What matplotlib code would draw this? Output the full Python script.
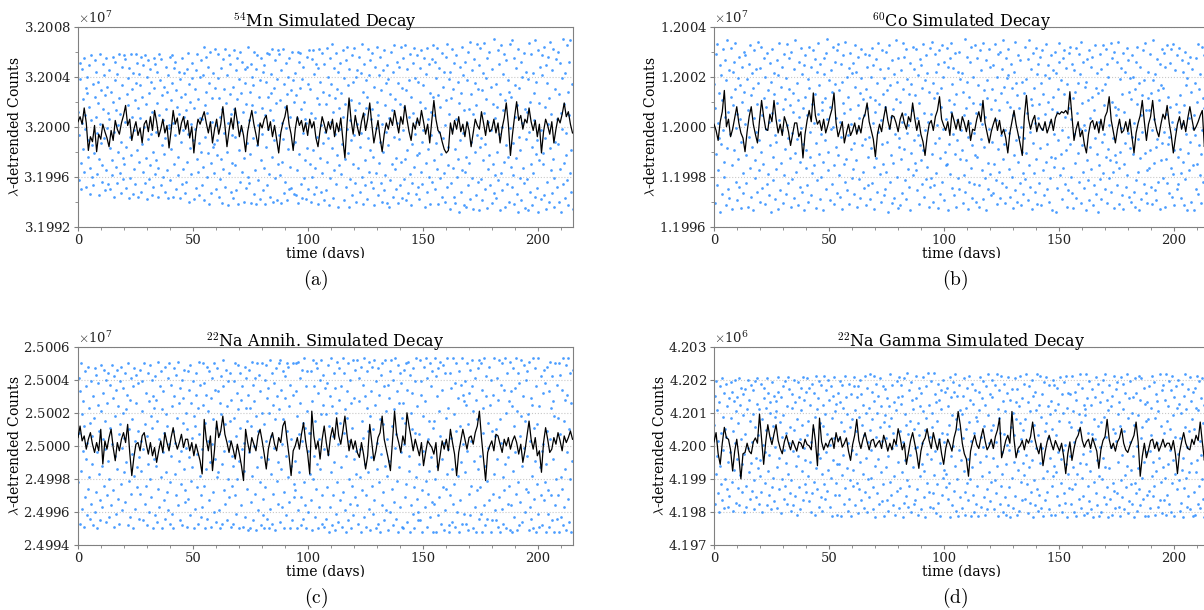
import numpy as np
import matplotlib
matplotlib.use('Agg')
import matplotlib.pyplot as plt
from matplotlib.ticker import MultipleLocator, ScalarFormatter
from matplotlib.transforms import Bbox, TransformedBbox

plt.rcParams['font.family'] = 'DejaVu Serif'
plt.rcParams['mathtext.fontset'] = 'cm'

DAYS = 215.0

TITLES = [r'$^{54}$Mn Simulated Decay', r'$^{60}$Co Simulated Decay',
          r'$^{22}$Na Annih. Simulated Decay', r'$^{22}$Na Gamma Simulated Decay']
CAPTIONS = ['(a)', '(b)', '(c)', '(d)']
BASELINES = [3.2e7, 1.2e7, 2.5e7, 4.2e6]
# counts per list unit for each panel
UNITS = [100, 50, 100, 40]
YLIMS = [(3.1992e7, 3.2008e7), (1.1996e7, 1.2004e7), (2.4994e7, 2.5006e7), (4.197e6, 4.203e6)]
YMAJOR = [4000, 2000, 2000, 1000]
YMINOR = [2000, 1000, None, None]

# smoothed series (black), offsets from baseline in panel units
MN_LINE = [
    4, 8, 2, 15, 3, -19, -8, -12, 1, -20, -6, -10, 2, -4, -9, -16, -3, -11, 5, -2,
    -6, 3, 9, 17, 1, 6, -11, -2, 4, -7, -1, -13, 2, 5, -4, 8, -3, 13, 4, -8,
    -2, 6, -5, 1, -17, -3, 13, 2, 7, -6, 3, 8, -2, 5, -9, 0, -21, -4, 6, 2,
    7, 12, 3, -5, 4, -13, -2, 6, -6, 2, 16, 1, -16, -3, 7, -2, 15, 4, -8, 1,
    -7, -20, -4, 5, 13, 2, -6, -15, 3, -1, 6, 9, -3, 4, -8, 1, -10, -21, -5, 3,
    8, 17, 2, -6, -19, -2, 8, 1, 5, -4, 3, -7, 6, -1, 4, -9, -16, -3, 8, 2,
    -5, 4, -2, 6, -8, 3, -4, 7, -10, -25, 2, 23, 5, -6, 9, 0, -7, 4, 11, -3,
    6, 19, 2, -13, -4, 5, -9, -20, -6, 3, -2, 7, 1, 13, 4, -5, 8, 2, 17, 6,
    -4, -11, 3, -2, 7, 1, 13, 4, -6, 2, -13, 5, 21, 6, -3, -5, -12, -18, -21, -19,
    3, -6, 5, -2, 8, -4, 2, -8, 4, -3, -16, -5, 6, 1, -2, 12, 3, -7, 5, -4,
    -2, 6, -5, 3, -13, -1, 7, 19, 2, -23, -6, 8, 20, 5, 9, -2, 6, 3, 15, 4,
    -3, 5, -8, 2, -21, -4, 6, 1, -6, 4, -13, -2, 7, 3, 10, 19, 8, 12, 2, -5,
]
CO_LINE = [
    2, -3, -11, 4, 12, 29, 0, 6, -8, -2, 7, 16, 3, -5, -9, -20, -4, 8, 16, 2,
    -6, -13, 5, 21, 8, -2, -3, 10, 4, 21, 6, -5, 2, -7, 8, 3, -4, -15, -6, 3,
    3, -8, -4, -25, -6, 5, 13, 4, 27, 9, 2, 5, -3, 6, -5, 1, 8, 14, 27, 3,
    -8, -2, 4, -13, -5, 2, -7, -3, 3, -6, 1, -5, 6, 10, 19, 4, -3, -10, -24, -6,
    2, -4, 7, 16, 5, -2, 9, 8, 3, -4, 6, 11, 3, -2, 8, 4, 19, 7, -3, 5,
    -6, -12, -23, -8, 2, 5, -3, 8, 13, 24, 6, 1, -3, 4, -7, 11, 5, -2, 6, -3,
    8, 3, -4, 5, -11, -2, -3, 6, 12, 4, 21, 3, -5, -13, -4, 2, 7, -3, 5, -6,
    -2, -9, -21, -5, 4, 13, 2, -6, -14, -23, 8, 25, 6, -2, 5, 9, -4, 3, -1, -3,
    4, -5, 0, 6, -3, 7, 11, 10, 12, 11, 13, 10, 28, 9, -11, -2, 4, -8, -3, -14,
    -21, -6, 3, 5, -2, 4, -5, 6, -3, 8, 12, 24, 5, -4, -13, -2, 6, -5, -3, 4,
    -4, 6, -8, -21, -5, 3, 9, 21, 4, -11, 2, 8, 21, 5, -3, -8, 2, 10, 6, 17,
    3, -7, -21, -9, 2, 8, -2, 5, -4, 7, 16, 6, -3, 0, 4, 9, 13, -16, -5, 2,
]
NA_ANNIH_LINE = [
    5, 12, 3, 6, -2, 4, 8, 1, -4, 2, -3, 10, -11, 3, -2, 5, 10, -1, -9, 2,
    -3, 4, 8, 2, 13, -4, -18, -7, 1, 2, -3, 6, 8, 1, -5, 2, -6, -1, -10, -3,
    3, -4, 8, 2, -3, 5, 11, 3, -2, 2, 7, -1, 4, 4, -3, 2, -6, 1, -4, -9,
    -17, 16, 4, -3, 6, -15, -2, 15, 5, 9, 18, 7, 2, -4, 3, -2, -8, 1, -5, -12,
    -21, 10, 2, -4, 5, 1, -3, 6, 10, 3, -5, -14, -2, 4, 8, 1, -3, 5, 2, 12,
    15, 4, -6, -18, -3, 0, 5, -2, 7, 14, 3, -5, -17, 21, 6, -2, 3, -8, 4, 12,
    2, -6, 5, 11, 4, 17, 6, 1, 9, 18, 7, -3, 4, -2, 3, -4, -7, 2, -5, -14,
    -6, 13, 2, -9, -3, 5, 8, 18, 4, -2, -8, -15, 3, 21, 7, 2, -4, 6, 1, 20,
    12, 5, -3, 4, -1, -6, 2, -12, -4, 3, 1, -1, -5, 2, -15, -6, 3, -2, 4, -3,
    10, 2, -5, -18, -4, 3, 10, 4, -2, 5, 6, 1, 8, 12, 21, 5, -8, -21, -4, 0,
    3, -3, 7, 6, 1, -4, 4, 0, 5, -2, 3, 6, 2, -5, 1, -10, -3, 6, 15, 4,
    -2, 5, -6, -3, -16, 2, 11, 4, -4, -2, 5, 1, 8, 3, -3, 6, 2, 5, 9, 4,
]
NA_GAMMA_LINE = [
    3, 10, -6, -14, 2, 14, 6, 5, -3, -19, -4, 5, -8, -25, -6, -5, 2, -4, -6, 3,
    6, 2, 24, 5, -14, 3, 16, 7, 1, 9, 16, 4, -2, -6, 3, 8, 2, -3, 4, 0,
    -4, 3, 2, -2, 5, 1, 0, -3, 16, 4, -15, 21, 3, -3, 2, -1, 4, 6, -2, 10,
    3, 7, -1, 2, 6, -4, -11, 1, 8, 20, 4, -2, 5, 10, 3, -3, 4, 5, -1, 2,
    4, -2, 8, 3, -4, 2, -3, 5, 1, 13, 6, -3, 2, -14, -5, 4, 10, 2, -6, -17,
    -4, 3, 6, 13, 4, -2, 10, 3, -3, 5, -6, -14, -2, 5, 1, -4, 6, 12, 26, 16,
    2, -6, -10, -23, -4, 3, 8, 1, -2, 6, 13, 4, -3, 0, 5, -2, 7, 12, 21, -9,
    -3, 4, 8, 2, 26, 5, -9, -2, 0, 4, -3, 5, 2, 7, 18, 6, -1, -6, 2, -15,
    -5, 3, 8, 2, -3, 4, 0, -4, 2, -8, -21, -6, 3, -11, -2, 5, 8, 14, 4, -1,
    3, 5, -2, 6, 1, -4, -17, -3, 4, 7, 20, 5, -2, 2, -4, 3, 6, 13, 2, -3,
    -5, 0, 4, 8, 18, 3, -23, -8, 2, -9, -3, 4, 5, -2, 3, -4, 0, 5, -1, 2,
    2, -3, 4, -6, -21, -5, 3, 10, 2, -2, -3, 5, 1, 8, 4, 18, 3, -11, -2, 4,
]

# raw simulated counts (blue), offsets from baseline in panel units
MN_DOTS = [
    12,-43,-7,38,51,-29,-50,3,46,22,-18,-36,55,9,-2,31,-48,27,40,-24,-11,49,16,-54,-33,5,57,-40,-15,34,
    -47,-21,24,53,8,44,-38,-5,19,36,-55,-26,2,58,-13,29,-44,-31,50,14,41,-9,-51,25,55,-35,-1,32,-46,11,
    45,6,-17,-50,28,-39,-27,56,20,-4,-56,37,52,13,-32,-45,42,1,-20,58,23,-37,10,-53,-12,48,33,-42,-25,57,
    -30,54,4,-49,-16,26,39,17,-57,47,-8,-41,-23,58,30,8,-54,43,-34,-3,21,-46,58,35,51,-19,-56,15,-28,42,
    7,33,-52,56,-14,24,-36,49,0,-45,57,18,-25,-58,40,53,-10,-42,27,46,-31,-6,36,-55,12,-48,-20,55,31,-38,
    50,-4,-27,44,19,-56,-33,9,58,37,-47,54,-15,25,-40,5,-22,32,-52,-9,48,14,-35,28,41,-57,1,-1,56,-43,
    21,-18,57,35,-56,3,-30,47,-7,52,29,-50,16,-39,-24,10,44,-57,38,-12,24,55,-46,-3,-34,43,8,-53,26,13,
    -44,46,-28,-6,59,34,-60,20,-17,2,-38,51,39,-11,-58,15,-2,30,-49,45,-26,58,-36,22,-55,-13,7,40,-20,53,
    6,-47,-32,41,64,-59,17,-8,28,56,-40,11,-21,48,-62,35,60,-29,-53,23,4,-16,43,-37,-14,31,62,-50,1,-23,
    -11,39,58,-56,23,-42,8,-26,47,-61,14,54,-34,-5,30,62,-48,19,-20,41,-63,3,-37,57,26,50,-52,10,-29,-7,
    32,-57,14,61,-31,-8,45,-51,22,55,-62,4,-19,38,-44,60,-3,27,-36,52,12,-60,-25,46,35,-49,18,-13,48,-40,
    64,5,-45,28,-22,50,-61,17,40,-9,33,-54,60,-35,12,-62,46,-15,57,1,-43,24,-58,37,-27,55,-6,15,-51,44,
    -33,49,9,-62,36,-16,59,-47,24,-2,58,-38,13,-56,42,27,-24,62,-60,5,31,-11,53,-41,19,-59,38,-30,61,-7,
    58,-39,21,-61,45,3,-28,-10,62,34,-53,16,-44,-1,51,-59,26,-18,40,-50,55,8,-32,29,-49,60,-14,37,-54,20,
    -12,43,-55,25,-35,7,60,-61,52,-22,31,59,-46,14,-57,38,-5,48,-41,20,-27,6,-58,3,56,-17,-50,34,61,-30,
    30,-60,11,54,-40,61,-19,-54,42,7,-33,50,-48,23,-8,47,-62,18,62,-25,36,-52,1,-37,59,-13,28,-59,50,-4,
    -51,18,63,-28,40,-9,-63,25,55,-41,4,34,-17,66,-57,12,-35,47,23,-6,59,-46,30,-23,-64,44,15,-31,51,-2,
    27,-38,-14,61,8,-59,39,-26,18,53,-48,-2,64,-21,33,-64,46,5,-42,21,-11,57,-55,36,-30,63,-7,13,-45,40,
    -60,45,2,-33,56,19,-52,-16,43,-5,66,-40,28,-62,10,50,-27,-47,37,15,-58,24,62,-9,-36,41,-19,53,-44,6,
    14,59,-49,-24,32,-63,48,-1,-37,20,64,-55,9,41,-29,-12,56,-45,29,-60,2,45,-20,-51,61,17,-39,35,-4,-61,
    49,-15,38,-64,7,26,-43,60,-30,13,-56,44,-8,65,-34,22,-50,-25,52,3,-61,35,-10,48,-47,18,64,-28,-57,31,
    -3,55,-42,16,-26,65,-59,29,46,-19,-53,8,37,-38,58,-63,24,-14,-45,51,11,-32,63,-6,39,-54,4,-23,57,-48,
    36,-21,-58,47,20,-36,61,-12,-46,33,-3,55,-64,15,42,-29,63,-52,6,-18,50,-40,27,-62,12,-7,54,-44,24,65,
    -27,9,52,-50,-13,39,-34,63,-62,25,-4,47,16,-41,-22,59,-56,32,-9,44,-37,1,-60,56,21,-48,66,-16,-31,38,
    10,-66,44,23,-45,-2,62,-33,30,-56,51,-18,-61,6,57,-40,36,-26,19,-68,48,-11,27,-52,64,-35,-5,41,-63,13,
    -36,52,-24,-64,37,3,-47,60,14,-29,68,-58,26,-12,45,-41,-66,10,54,-20,35,-55,17,66,-7,-44,30,-67,49,-16,
    63,-9,-42,29,-59,43,-27,11,67,-50,-14,39,22,-65,55,-34,4,-23,60,-47,32,-3,-61,46,-30,18,70,-53,7,-39,
    -57,34,16,-20,61,-43,-6,50,-67,26,-37,65,0,-51,13,42,-28,58,-64,21,-15,53,-46,37,-24,-60,28,-1,66,-32,
    24,-48,69,-13,-39,55,-62,33,8,-25,47,-54,17,-68,62,-8,31,-41,-19,52,-59,40,3,-33,59,-45,14,-65,44,-10,
    -42,12,-67,38,-4,67,-52,20,-30,58,-16,-63,43,-37,27,5,-56,69,-22,36,-11,-49,61,-68,19,-27,48,-3,-58,57,
    41,-30,-21,64,-55,16,-9,49,-66,35,-44,2,56,-60,23,-17,68,-35,10,-53,45,-26,62,-41,-64,30,-12,54,-48,6,
    -14,60,-60,26,-34,51,11,-68,39,-2,-46,70,-29,18,-57,43,-23,-5,65,-43,28,-63,9,52,-37,69,-19,-52,34,-66,
]
CO_DOTS = [
    34,15,-61,-22,58,66,-47,3,-35,27,-9,49,-68,-14,41,21,-54,62,-3,-40,-28,53,8,37,-63,-17,69,12,-50,45,
    -57,-6,24,63,-31,-66,44,17,52,-19,30,67,-44,-1,-59,10,39,-26,-48,56,6,33,-65,-12,48,20,-37,-53,60,28,
    2,57,-45,-23,38,13,-64,50,-8,65,-33,25,-56,43,-16,31,-67,7,61,-41,-27,46,-4,18,-52,68,35,-35,-11,-60,
    47,64,-20,9,-49,-30,55,23,-62,40,-2,16,-46,59,-38,29,4,-55,51,-15,36,-68,62,11,-24,-43,43,26,-7,-58,
    -34,-12,53,19,-66,41,5,67,-51,-29,32,48,-3,-61,14,58,-39,-18,22,39,-54,66,1,-9,-45,55,30,-25,17,-64,
    60,-42,-5,27,12,-57,46,69,-21,-36,-10,35,21,-63,52,8,-48,-28,63,-1,42,-52,15,-14,49,-67,24,57,-33,-19,
    -47,9,38,-60,64,31,-24,-4,48,-55,-37,18,61,3,-31,54,26,-65,-13,44,-43,10,67,-22,33,-58,50,-6,-40,20,
    13,-28,-67,55,42,-11,23,59,-50,6,70,-35,-20,37,16,-59,45,-2,28,-46,64,0,-31,-62,52,34,-16,7,-53,61,
    -23,66,-39,29,4,-56,-8,50,36,-66,19,57,-30,11,-44,68,-26,40,-51,-7,24,47,-62,14,59,-18,2,-41,43,-34,
    51,-13,-54,32,65,-27,44,-3,-64,17,56,7,-42,27,-57,39,62,-15,22,-36,-49,9,58,-10,30,-63,48,15,-24,-47,
    -8,57,24,-58,40,-17,63,-45,3,49,-32,-66,21,12,54,-25,-52,35,67,-4,18,-38,46,-60,5,-14,61,-30,26,-55,
    39,-50,16,60,-36,-12,29,47,-68,-1,65,-44,33,-23,8,-61,53,14,-29,42,-57,-6,69,22,-40,36,-65,55,-16,-9,
    -63,20,45,-26,-53,4,67,30,-18,56,-43,10,62,-58,38,-5,-34,1,26,-48,51,-67,-21,34,13,64,-39,-11,46,-29,
    25,-35,62,7,-51,-7,41,19,-62,-15,54,-27,49,31,-46,-19,66,11,-56,37,-3,57,-42,43,-32,4,-64,28,63,-48,
    -41,10,68,-22,35,-60,23,-47,58,-13,44,-37,1,27,-65,50,-9,61,-25,-54,16,31,65,-44,-2,40,-59,52,-20,-31,
    6,-30,63,48,-67,-14,21,55,-38,67,12,-49,34,-6,47,-55,18,-22,59,-64,26,-11,5,-41,44,60,-50,-26,38,-3,
    -19,43,-61,28,9,-39,70,-52,15,-27,36,56,-8,-66,24,-44,52,3,-33,64,-15,-57,40,19,-5,-46,65,-23,11,-60,
    55,-24,33,-47,-64,61,18,-10,45,-35,2,-58,67,29,-16,-41,8,53,-67,37,23,-29,-50,62,-2,48,-38,14,-55,30,
    -12,-53,49,-30,21,66,-43,5,-62,40,58,-18,-36,13,60,-57,27,-7,-45,46,-26,69,-14,32,-61,-3,55,-48,20,39,
    41,62,-34,-5,-56,16,50,-40,31,-65,9,-23,44,-51,68,-11,35,25,-60,-28,57,-8,15,-45,53,-63,0,36,-20,-37,
    -54,27,-9,64,-42,-21,38,11,-59,54,-31,69,-4,-48,22,46,-66,17,-13,59,-37,31,-52,3,63,-26,42,-62,7,50,
    18,-45,56,-17,35,-63,-2,61,26,-35,-55,41,10,-28,66,-50,-14,49,20,-60,39,4,-41,57,-24,14,-67,45,24,-6,
    -32,60,-25,43,-68,12,-49,30,-11,52,67,-39,-22,37,-3,-58,55,-33,26,61,-46,8,-19,47,-64,34,-8,-51,59,15,
    64,-14,-40,6,50,-53,23,-65,45,-6,28,-29,63,-57,11,35,-21,58,-44,-2,42,-61,68,-15,19,-36,52,1,-49,32,
    -3,36,-67,54,-27,21,-43,61,-59,7,-16,48,-34,24,56,-63,13,-47,65,-9,31,-54,-22,43,-68,27,4,-31,58,-42,
    46,-58,29,-12,-37,65,-6,17,34,-50,62,-24,-61,50,-18,40,-41,1,-27,67,-52,20,55,-36,-9,60,-65,16,-23,9,
    -28,52,-47,14,68,-33,-62,38,-20,47,-1,-55,26,-66,59,-30,12,-13,44,-48,63,-39,-5,53,28,-56,39,-17,-60,22,
    57,-8,-22,40,-52,3,30,-64,52,-43,18,64,-10,-36,35,-67,48,-25,9,-58,25,-4,61,-46,37,-21,67,-53,13,-35,
    -61,23,44,-33,13,-19,58,-48,27,-3,-62,37,69,-29,6,-51,42,-16,-59,54,-10,29,-44,21,-66,50,-27,33,-13,62,
    31,-41,-4,59,-64,48,-26,10,-45,65,-14,24,-53,-8,51,16,-33,62,-56,4,-38,66,-19,-63,45,-2,18,-50,57,-24,
    -46,12,63,-18,25,-57,-37,53,2,-28,44,-63,17,60,-42,33,-6,-67,39,-21,51,-35,7,56,-12,-60,28,46,-31,-1,
    9,-67,35,-7,-50,55,20,-30,66,-54,-15,30,-39,42,-22,-61,64,-3,23,-44,15,57,-58,-27,47,1,-47,34,-65,58,
]
NA_ANNIH_DOTS = [
    -22,41,8,-47,33,50,-15,-38,19,-3,27,-49,12,45,-31,-8,36,-42,2,48,-26,-19,23,14,-44,-35,39,6,-11,-48,
    30,17,-40,47,-28,43,-4,-50,25,38,-17,9,-45,-33,21,49,-12,-37,4,32,46,-24,-2,15,-46,40,26,-30,-9,44,
    -43,-20,11,37,-36,49,1,29,-27,-49,42,18,-6,-41,34,46,-14,-32,24,7,-47,39,13,-23,48,-1,-39,20,35,-16,
    5,44,-34,-10,22,31,-48,50,10,-21,28,-43,-29,41,16,-5,-50,36,47,-18,3,-38,26,43,-25,-13,9,38,-44,-7,
    -29,46,3,-15,39,21,-45,-2,50,-35,13,32,-24,-48,6,44,-11,27,-40,49,-20,18,-31,40,11,-50,30,-8,23,-42,
    42,28,-12,-46,15,51,-26,4,-37,36,-19,45,-50,22,-4,33,-33,8,48,-44,19,-16,12,-28,41,-39,1,50,-22,-47,
    -6,37,24,-41,9,-50,47,30,-17,2,-30,43,17,-36,51,-9,26,-45,35,-23,-3,40,-48,29,14,-14,46,-34,-27,-1,
    20,10,-49,45,-32,34,-7,49,-42,26,-21,5,-13,39,18,-50,12,-38,44,31,-25,-5,23,-47,51,7,-18,37,-30,-43,
    -37,-2,25,50,-24,38,14,-50,-14,31,48,-44,3,21,-33,45,-10,29,-49,1,41,-28,16,50,-40,-8,34,11,-46,-19,
    47,33,-16,7,-39,-50,26,42,19,-11,-47,36,52,-27,-3,13,-35,46,24,-45,-20,39,3,-31,15,44,-49,28,-6,-24,
    -12,-47,39,17,-30,50,6,-41,32,-20,49,22,-9,-50,44,11,28,-36,-2,36,-49,-15,2,48,-43,23,41,-26,15,-51,
    31,-4,46,-50,23,12,-34,-18,51,37,-45,0,27,-29,41,-51,18,-13,50,-39,9,43,-22,33,-48,-7,50,20,-32,-42,
    -50,13,-25,40,3,49,29,-44,-8,35,-50,20,52,-38,6,-17,44,-47,25,-29,38,-1,16,-51,47,-21,30,-35,-10,50,
    22,52,-46,-14,34,1,-37,45,16,-28,-50,42,29,-6,-42,50,9,-19,48,-34,24,-50,37,-12,4,-45,31,50,-23,-31,
    -27,-9,50,33,-50,18,-39,51,7,-16,41,26,-48,-31,3,46,-44,14,53,-22,11,-36,36,-50,21,45,-3,-40,8,-17,
    8,45,-33,27,-51,-20,52,-6,36,15,-43,50,-26,-11,47,32,-50,4,-37,40,-14,52,19,-47,-30,43,25,-2,-49,35,
    -44,19,38,-25,-5,49,-52,12,30,-37,53,-16,-48,24,6,-30,44,-10,-51,35,20,-41,51,-22,1,-46,28,47,-33,14,
    36,-13,-49,53,-28,8,44,-39,22,-6,-52,33,17,-45,50,-20,3,-35,40,26,-50,11,-24,52,-42,29,-8,46,-31,-17,
    -3,52,-36,-47,27,41,-19,-2,48,-52,15,-27,37,5,-43,53,-11,30,-30,-49,23,45,-16,9,-38,51,-51,18,33,-7,
    48,-24,10,-41,52,-33,25,-50,39,2,-14,47,-47,31,-22,16,-52,43,-5,-36,50,13,-28,36,-45,-12,52,21,-39,4,
    -18,37,-51,29,-9,45,-40,52,-26,12,-48,40,22,-34,53,-1,-44,7,33,-21,-52,49,-13,26,44,-37,-4,38,-49,17,
    26,-50,46,1,-31,14,-23,50,-46,34,51,-15,-6,43,-52,20,-36,32,10,-41,47,-25,-50,39,8,-19,53,-32,24,-45,
    -40,7,-11,52,-45,31,39,-27,-52,18,-3,48,-37,27,-21,53,41,-49,4,-29,15,-15,50,-43,36,-7,-34,45,-52,11,
    15,-35,53,-20,42,-52,-12,30,47,-42,21,-31,6,51,-47,-8,34,-25,49,-51,2,44,-39,17,-26,53,-17,23,-2,-48,
    -52,44,-30,5,35,-14,-46,53,-35,19,-23,38,-49,9,50,-40,29,-18,-52,45,12,-33,37,-10,53,-47,1,31,-41,27,
    39,-16,25,-47,-3,50,-51,13,32,-29,46,-42,3,-24,36,52,-50,21,-9,41,-37,28,-52,16,-27,47,-14,-44,52,-6,
    -25,50,-41,34,-52,23,8,-36,53,-12,-48,30,42,-21,-44,14,-1,48,-33,25,-52,40,9,-45,31,-29,53,-17,6,-39,
    10,-45,41,-8,28,-49,52,-31,16,-52,37,2,-38,50,-19,-47,34,-27,53,-11,20,-50,44,-35,-7,27,-24,51,-51,33,
    -36,24,-52,47,-15,12,-43,35,-4,53,-29,-51,21,44,-22,38,-48,6,-34,52,18,-12,-46,30,-1,49,-40,15,40,-26,
    45,-6,-28,19,-51,51,-37,3,29,-44,25,-18,53,-50,11,-32,47,-9,-52,36,-23,13,-41,53,24,-49,-13,42,-30,-3,
    -48,32,1,-33,46,-22,38,-52,-11,48,9,-41,-27,33,-49,51,4,-30,23,-45,42,-8,27,-52,18,-36,50,-20,-44,37,
    17,-30,50,-52,7,43,-19,-43,34,-26,53,-48,15,-37,28,-14,-51,49,-4,31,-32,53,-46,10,44,-20,-52,26,-9,46,
]
NA_GAMMA_DOTS = [
    16,38,-44,-21,49,-8,27,-36,4,-50,33,45,-15,-29,10,51,-41,22,-3,40,-47,13,-25,47,7,-33,30,-12,-46,36,
    -38,-5,21,48,-27,41,11,-49,34,-18,50,2,-43,26,37,-10,-32,17,51,-45,-22,31,5,44,-35,-14,23,39,-50,-6,
    43,9,-30,-46,28,50,-2,-20,35,19,-40,46,-13,3,-34,42,24,-48,-26,49,14,-39,-9,32,51,-17,8,-44,28,-23,
    -11,-35,47,20,-50,1,36,44,-28,-5,29,12,-45,51,-19,40,-37,-7,25,33,-48,6,48,-31,15,-24,38,-42,-1,22,
    34,26,-47,-16,41,52,-33,-9,18,37,-51,7,-25,45,23,-40,-3,49,-30,10,-13,30,-44,52,-21,2,43,-36,14,-49,
    -26,39,29,-4,-45,12,50,-38,33,-15,20,-52,48,-8,37,-31,5,-48,27,44,-19,16,-41,52,-2,35,-29,-11,41,-35,
    8,51,-23,19,-42,44,-12,31,-50,3,47,-36,13,-27,40,-52,22,53,-17,-33,28,-6,36,-46,49,-9,17,-39,46,-21,
    -49,15,31,-29,53,24,-40,-5,42,-34,9,50,-18,35,-46,1,45,-24,21,-53,38,-11,6,52,-37,26,-28,32,-14,-52,
    40,5,-14,-37,33,49,18,-53,46,-22,-7,29,11,-44,53,-32,37,-17,24,-49,2,47,-40,14,-26,39,-53,20,-3,-30,
    -18,45,52,-45,27,-6,11,-28,37,-51,45,22,-33,-12,50,39,-41,16,-21,31,-47,8,53,-35,25,-9,-50,44,3,-25,
    29,-39,54,12,-24,-3,41,20,-48,-31,53,34,-15,-54,7,47,-36,25,38,-10,-44,14,51,-20,30,-42,4,45,-29,18,
    -53,23,43,-16,6,-41,36,-8,-49,30,15,-27,54,-37,21,46,-2,-45,10,-23,33,-52,27,1,-34,49,-12,37,-47,52,
    11,-32,46,32,-20,38,-54,3,-43,51,-11,24,-38,16,55,-26,-46,9,42,-30,19,-7,48,-50,35,-16,28,-44,13,-2,
    -41,36,53,-1,-33,17,-52,44,8,-23,30,-48,40,2,-14,26,52,-39,-19,12,-54,45,21,-28,-6,55,-35,31,-46,7,
    49,-10,25,14,-47,-36,55,-22,39,-4,-51,33,19,-29,47,-43,5,35,-13,-53,28,42,-37,10,-24,50,-18,3,41,-31,
    -21,44,9,-40,30,-28,16,52,-54,37,-8,23,-45,48,0,-34,41,-15,54,-49,20,-25,38,-53,13,46,-3,-39,27,-11,
    24,-47,38,6,-19,51,-35,-52,29,13,-28,44,-10,-41,53,18,-25,35,-53,4,47,-16,-37,32,10,-50,42,-6,22,-44,
    -30,19,-53,41,27,-12,52,-46,7,36,-23,-1,49,-39,15,-52,31,-8,45,-33,-48,23,54,-20,2,39,-42,12,-27,50,
    37,-9,16,-48,-26,46,3,-36,54,-15,28,-53,21,42,-44,10,-30,53,-5,-21,34,-50,9,47,-39,26,-14,-52,40,1,
    -45,52,-31,-3,35,-54,14,43,-24,25,-47,8,-12,51,-38,33,20,-52,43,-18,-4,30,-49,17,53,-27,5,36,-41,-13,
    12,-22,47,-40,20,-7,54,-29,-51,33,-16,45,26,-43,4,-35,50,-11,-54,38,16,-26,41,-45,-2,27,54,-33,8,-49,
    -37,31,-13,53,-47,22,-2,39,-24,-53,48,11,-41,17,52,-19,-35,30,6,-48,46,-9,24,-52,34,-30,13,50,-23,-15,
    46,-52,27,-20,8,-38,44,-5,32,-45,19,52,-28,-10,39,-50,25,-3,48,-36,1,-43,53,-14,29,-54,40,-21,18,-32,
    -8,39,-44,14,-33,53,-16,26,-50,3,41,-29,-53,35,-21,12,47,-40,24,-13,54,-47,18,-24,44,-6,-38,31,-52,23,
    28,-14,54,-51,36,-30,10,-42,49,-19,-4,31,-48,43,9,-54,20,-27,37,5,-36,52,-11,-45,15,47,-23,-53,33,-1,
    -50,18,-25,41,-9,50,-39,22,-16,54,-44,7,35,-31,-54,27,-17,46,-40,30,-1,-52,38,13,-28,53,-34,10,-47,43,
    4,-36,48,-12,24,-46,33,-53,15,-26,52,-7,-39,28,47,-48,11,-22,40,-31,54,-15,-51,21,36,-42,3,49,-18,-29,
    -44,25,-8,37,-54,16,-28,51,-36,40,0,-49,23,-17,53,-33,35,-45,6,51,-24,14,-40,44,-12,32,-53,19,-5,-37,
    33,-53,20,-34,45,-4,-47,29,8,-23,53,-38,-12,48,-30,21,-52,39,-19,2,34,-46,26,-9,54,-41,15,-27,42,-51,
    -16,46,-41,10,-24,35,54,-52,19,-37,30,-14,49,-44,13,-3,-50,42,-28,53,-11,23,-53,37,-21,7,45,-33,29,-6,
    50,-26,32,-49,6,-43,25,-18,47,-9,-54,38,-32,14,54,-24,28,-46,-1,43,-38,11,-20,52,-48,34,-13,20,-53,41,
    -35,13,-52,44,-20,29,-11,53,-44,27,-30,49,4,-47,36,-7,51,-25,-40,17,-54,31,-15,46,3,-34,54,-29,21,-12,
]

LINES = [MN_LINE, CO_LINE, NA_ANNIH_LINE, NA_GAMMA_LINE]
DOTS = [MN_DOTS, CO_DOTS, NA_ANNIH_DOTS, NA_GAMMA_DOTS]

W, H = 1204, 610
# axes boxes in pixels: left, top, right, bottom
BOXES = [(78, 26.7, 572.5, 226.7), (714, 26.7, 1208.5, 226.7),
         (78, 346.7, 572.5, 545), (714, 346.7, 1208.5, 545)]
CAPTION_XY = [(316, 280), (955, 280), (316, 598), (955, 598)]
LABEL_CUT = [258, 258, 577, 577]

SPINE = '#808080'


def plot_panel(fig, k):
    l, t, r, b = BOXES[k]
    ax = fig.add_axes([l / W, 1 - b / H, (r - l) / W, (b - t) / H])

    dots = np.array(DOTS[k]) * UNITS[k] + BASELINES[k]
    line = np.array(LINES[k]) * UNITS[k] + BASELINES[k]
    ax.scatter(np.linspace(0, DAYS, len(dots)), dots, s=3.8, color='#2b8cff',
               alpha=0.85, linewidths=0, zorder=2)
    ax.plot(np.linspace(0, DAYS, len(line)), line, color='k', lw=0.9, zorder=3)

    ax.set_xlim(0, DAYS)
    ax.set_ylim(*YLIMS[k])
    ax.xaxis.set_major_locator(MultipleLocator(50))
    ax.xaxis.set_minor_locator(MultipleLocator(10))
    ax.yaxis.set_major_locator(MultipleLocator(YMAJOR[k]))
    if YMINOR[k]:
        ax.yaxis.set_minor_locator(MultipleLocator(YMINOR[k]))
    fmt = ScalarFormatter(useMathText=True, useOffset=False)
    fmt.set_powerlimits((0, 0))
    ax.yaxis.set_major_formatter(fmt)

    ax.yaxis.grid(True, which='major', linestyle=':', color='#c8c8c8', lw=0.8)
    ax.set_axisbelow(True)
    for s in ax.spines.values():
        s.set_color(SPINE)
    ax.tick_params(which='both', direction='out', color=SPINE, labelcolor='#222222',
                   labelsize=9.5, pad=2)
    ax.tick_params(which='major', length=3)
    ax.tick_params(which='minor', length=2)
    ax.yaxis.get_offset_text().set_fontsize(9.5)

    # fixed y so the title is not pushed up by the offset text
    ax.set_title(TITLES[k], fontsize=11.5, y=1.0, pad=0)
    ax.set_xlabel('time (days)', fontsize=10, labelpad=0)
    ax.set_ylabel(r'$\lambda$-detrended Counts', fontsize=10, labelpad=1)

    # the x label is cut at the bottom in the original figure
    lab = ax.xaxis.label
    cut = 1 - LABEL_CUT[k] / H
    lab.set_clip_box(TransformedBbox(Bbox([[0, cut], [1, 1]]), fig.transFigure))
    lab.set_clip_on(True)

    cx, cy = CAPTION_XY[k]
    fig.text(cx / W, 1 - cy / H, r'$\mathrm{' + CAPTIONS[k] + '}$', ha='center',
             va='center', fontsize=14)


def main():
    fig = plt.figure(figsize=(W / 100, H / 100), dpi=100)
    for k in range(4):
        plot_panel(fig, k)
    fig.savefig('out.png', dpi=100)


if __name__ == '__main__':
    main()
